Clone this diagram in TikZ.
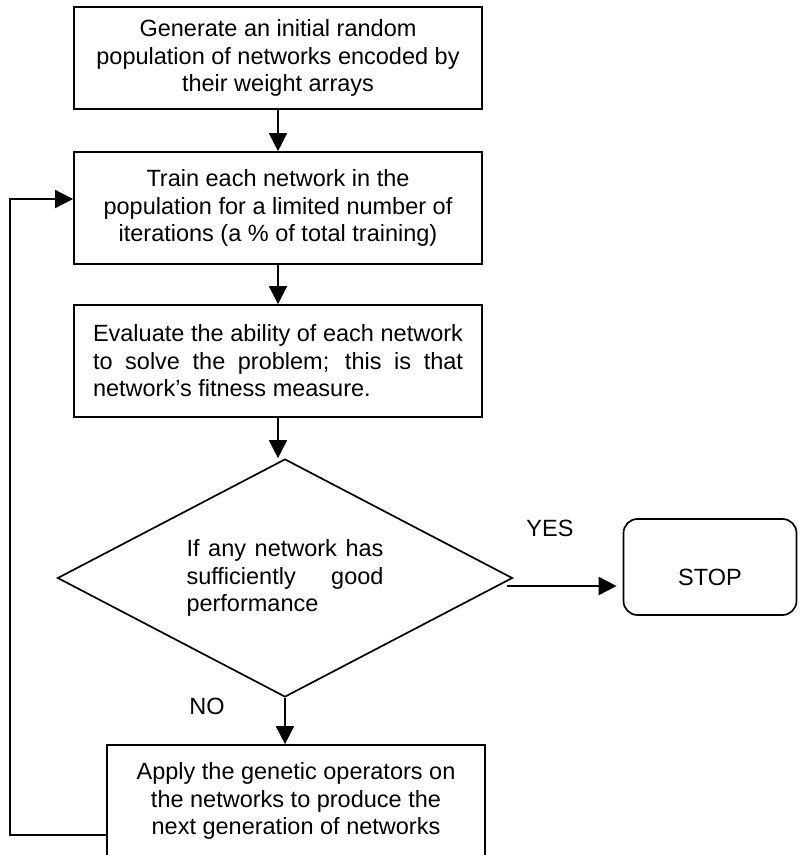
\documentclass[tikz,border=0pt]{standalone}
\usepackage{fontspec}
\setmainfont{Liberation Sans}
\usetikzlibrary{shapes.geometric,arrows.meta}

\tikzset{
	txt/.style={font=\fontsize{23.5}{27.5}\selectfont},
	box/.style={txt, draw, line width=1.7pt, minimum width=408pt, minimum height=112pt, inner sep=0pt, align=center},
	decision/.style={txt, draw, diamond, aspect=1.9, line width=1.7pt, minimum width=455pt, minimum height=238pt, inner sep=0pt, text width=197pt, align=justify},
	stopbox/.style={txt, draw, rounded corners=14pt, line width=1.7pt, minimum width=173pt, minimum height=96pt, text height=36.7pt, text depth=0pt},
	arrow/.style={-{Triangle[length=18pt,width=18pt]}, line width=1.7pt}
}

\begin{document}
\begin{tikzpicture}[x=1pt, y=-1pt]
\useasboundingbox (0,0) rectangle (804,855);
\clip (0,0) rectangle (804,855);

\node (gen) at (278,58) [box, minimum height=102pt] {Generate an initial random\\population of networks encoded by\\their weight arrays};
\node (train) at (278,208) [box] {Train each network in the\\population for a limited number of\\iterations (a \% of total training)};
\node (eval) at (278,361) [box, text width=370pt, align=justify] {Evaluate the ability of each network\linebreak to solve the problem; this is that\linebreak network's fitness measure.};
\node (dec) at (285,578) [decision] {If any network has\linebreak sufficiently good\linebreak performance};
\node (stop) at (710,567) [stopbox] {STOP};
\node (apply) at (296,801) [box, minimum width=378pt] {Apply the genetic operators on\\the networks to produce the\\next generation of networks};

\node (yes) at (550,528) [txt] {YES};
\node (no) at (207,706) [txt] {NO};

\draw [arrow] (gen) -- (train);
\draw [arrow] (train) -- (eval);
\draw [arrow] (eval.south) -- (eval.south |- dec.north);
\draw [arrow] (dec.south) -- (dec.south |- apply.north);
\draw [arrow] ([xshift=-6pt,yshift=-8pt]dec.east) -- ([xshift=-6pt,yshift=-8pt]dec.east -| stop.west);
\draw [arrow] ([yshift=-34pt]apply.west) -| ([xshift=-63pt,yshift=9pt]train.west) -- ([yshift=9pt]train.west);
\end{tikzpicture}
\end{document}
